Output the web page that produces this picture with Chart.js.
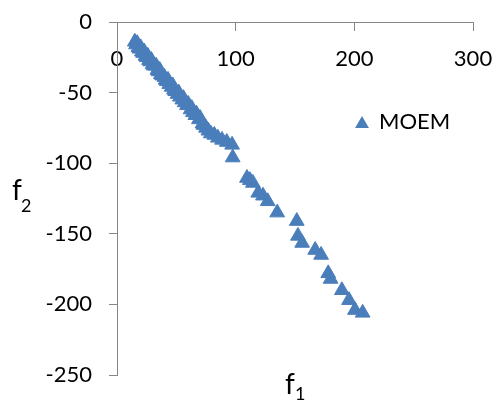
<!DOCTYPE html>
<html>
<head>
<meta charset="utf-8">
<script src="https://cdn.jsdelivr.net/npm/chart.js@4/dist/chart.umd.min.js"></script>
<style>
    body { margin: 0; background: #ffffff; }
    canvas { display: block; }
</style>
</head>
<body>
<canvas id="moemChart" width="497" height="405"></canvas>
<script>
// Pareto front values (f1, f2)
const f1Values = [15, 16, 17, 18, 19, 20, 21, 22, 23, 24, 25, 26, 27, 28, 29, 30, 31, 33, 34, 35,
    36, 37, 38, 40, 41, 42, 43, 44, 46, 47, 48, 49, 51, 52, 53, 55, 56, 57, 59, 60,
    62, 63, 64, 66, 67, 69, 70, 72, 73, 75, 77, 79, 82, 85,
    88.5, 92.5, 97, 97.5, 109.5, 112, 114.5, 119, 123, 127, 135,
    151.5, 152.5, 156, 167, 172, 178, 180, 189.5, 195.5, 200.5, 207];
const f2Values = [-14, -16, -15, -18, -19, -18, -21, -22, -21, -24, -25, -24, -27, -28, -27, -30, -31, -31, -34, -35,
    -34, -37, -38, -39, -41, -42, -41, -44, -46, -45, -48, -49, -51, -50, -53, -55, -54, -57, -59, -58,
    -62, -61, -64, -66, -65, -69, -68, -72, -73, -75, -77, -79, -80, -82,
    -83.5, -85, -87, -96, -110.5, -112, -114, -121, -123, -127, -135,
    -141, -151.5, -156.5, -161.5, -165, -178, -182, -190, -197, -204, -206];
const xTicks = [0, 100, 200, 300];
const yTicks = [0, -50, -100, -150, -200, -250];
const seriesName = 'MOEM';

const markerColor = '#4a7ebb';
const axisColor = '#868686';

const points = f1Values.map((v, i) => ({ x: v, y: f2Values[i] }));

// axis titles with subscripts and the legend entry
const extraText = {
    id: 'extraText',
    afterDatasetsDraw(chart) {
        const ctx = chart.ctx;
        ctx.save();
        ctx.fillStyle = '#000000';
        ctx.textAlign = 'left';
        ctx.textBaseline = 'alphabetic';

        ctx.font = '28px Lato';
        ctx.fillText('f', 12, 200);
        ctx.font = '18px Lato';
        ctx.fillText('2', 21, 212);

        ctx.font = '28px Lato';
        ctx.fillText('f', 285, 394);
        ctx.font = '18px Lato';
        ctx.fillText('1', 295, 400);

        // legend
        const lx = 362, ly = 124, r = 8;
        ctx.fillStyle = markerColor;
        ctx.beginPath();
        ctx.moveTo(lx, ly - r);
        ctx.lineTo(lx + r * 0.866, ly + r / 2);
        ctx.lineTo(lx - r * 0.866, ly + r / 2);
        ctx.closePath();
        ctx.fill();

        ctx.fillStyle = '#000000';
        ctx.font = '22px Lato';
        ctx.textBaseline = 'middle';
        ctx.fillText(seriesName, 379, 122);
        ctx.restore();
    }
};

function noPadding(scale) {
    scale.paddingLeft = 0;
    scale.paddingRight = 0;
    scale.paddingTop = 0;
    scale.paddingBottom = 0;
}

const ctx = document.getElementById('moemChart').getContext('2d');
new Chart(ctx, {
    type: 'scatter',
    data: {
        datasets: [{
            label: seriesName,
            data: points,
            pointStyle: 'triangle',
            pointRadius: 8.5,
            pointHoverRadius: 8.5,
            backgroundColor: markerColor,
            borderColor: markerColor,
            borderWidth: 1
        }]
    },
    options: {
        responsive: false,
        animation: false,
        devicePixelRatio: 1,
        layout: {
            padding: { left: 0, top: 22, right: 24, bottom: 30 }
        },
        plugins: {
            legend: { display: false },
            tooltip: { enabled: false }
        },
        scales: {
            x: {
                type: 'linear',
                position: { y: 0 },
                min: xTicks[0],
                max: xTicks[xTicks.length - 1],
                afterBuildTicks: s => { s.ticks = xTicks.map(v => ({ value: v })); },
                afterFit: noPadding,
                grid: {
                    drawOnChartArea: false,
                    drawTicks: true,
                    tickLength: 8,
                    color: axisColor
                },
                border: { display: true, color: axisColor, width: 1 },
                ticks: {
                    color: '#000000',
                    padding: 16,
                    maxRotation: 0,
                    font: { family: 'Lato', size: 22 }
                }
            },
            y: {
                type: 'linear',
                position: 'left',
                min: yTicks[yTicks.length - 1],
                max: yTicks[0],
                afterBuildTicks: s => { s.ticks = yTicks.slice().reverse().map(v => ({ value: v })); },
                afterFit: s => { noPadding(s); s.width = 117; },
                grid: {
                    drawOnChartArea: false,
                    drawTicks: true,
                    tickLength: 8,
                    color: axisColor
                },
                border: { display: true, color: axisColor, width: 1 },
                ticks: {
                    color: '#000000',
                    padding: 17,
                    font: { family: 'Lato', size: 22 }
                }
            }
        }
    },
    plugins: [extraText]
});
</script>
</body>
</html>
